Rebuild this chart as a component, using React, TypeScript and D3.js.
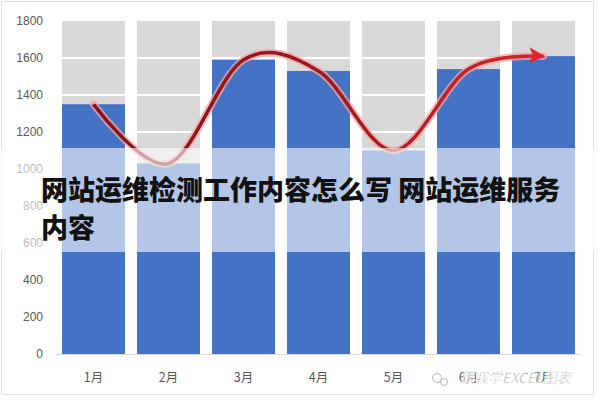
import React, { useEffect, useRef } from "react";
import * as d3 from "d3";

const months = ["1月", "2月", "3月", "4月", "5月", "6月", "7月"];
const sales = [1350, 1030, 1590, 1530, 1100, 1540, 1610];
const trend = [1350, 1030, 1590, 1530, 1100, 1540, 1610];
const yTicks = [0, 200, 400, 600, 800, 1000, 1200, 1400, 1600, 1800];
const yMax = 1800;
const titleLines = ["网站运维检测工作内容怎么写 网站运维服务", "内容"];
const watermark = "跟我学EXCEL图表";

const App: React.FC = () => {
  const svgRef = useRef<SVGSVGElement | null>(null);

  useEffect(() => {
    if (!svgRef.current) return;
    const width = 600;
    const height = 400;

    const svg = d3.select(svgRef.current);
    svg.selectAll("*").remove();
    svg.attr("width", width).attr("height", height);

    const x = d3
      .scaleBand<string>()
      .domain(months)
      .range([56, 581])
      .paddingInner(0.16)
      .paddingOuter(0.08);
    const y = d3.scaleLinear().domain([0, yMax]).range([354, 21]);

    const defs = svg.append("defs");
    const grad = defs
      .append("linearGradient")
      .attr("id", "curveGrad")
      .attr("gradientUnits", "userSpaceOnUse")
      .attr("x1", x("1月")!)
      .attr("x2", x("7月")! + x.bandwidth())
      .attr("y1", 0)
      .attr("y2", 0);
    grad.append("stop").attr("offset", "0%").attr("stop-color", "#7e1519");
    grad.append("stop").attr("offset", "55%").attr("stop-color", "#9c1c20");
    grad.append("stop").attr("offset", "100%").attr("stop-color", "#e3262b");

    defs
      .append("marker")
      .attr("id", "arrow")
      .attr("viewBox", "0 0 10 10")
      .attr("refX", 9)
      .attr("refY", 5)
      .attr("markerWidth", 4.6)
      .attr("markerHeight", 4.6)
      .attr("orient", "auto")
      .attr("markerUnits", "strokeWidth")
      .append("path")
      .attr("d", "M0,0 L10,5 L0,10 L2.5,5 Z")
      .attr("fill", "#e0252a");

    svg.append("rect").attr("width", width).attr("height", height).attr("fill", "#fff");
    svg
      .append("rect")
      .attr("x", 1.5)
      .attr("y", 1.5)
      .attr("width", 592)
      .attr("height", 393)
      .attr("fill", "none")
      .attr("stroke", "#e2e2e2");

    // 회색 배경 막대 (최대값까지)
    svg
      .append("g")
      .selectAll("rect")
      .data(months)
      .enter()
      .append("rect")
      .attr("x", (d) => x(d)!)
      .attr("y", y(yMax))
      .attr("width", x.bandwidth())
      .attr("height", y(0) - y(yMax))
      .attr("fill", "#d9d9d9");

    // 흰색 격자선
    svg
      .append("g")
      .selectAll("line")
      .data(yTicks.filter((t) => t > 0 && t < yMax))
      .enter()
      .append("line")
      .attr("x1", 56)
      .attr("x2", 581)
      .attr("y1", (d) => y(d))
      .attr("y2", (d) => y(d))
      .attr("stroke", "#fff")
      .attr("stroke-width", 2);

    // 파란 막대
    svg
      .append("g")
      .selectAll("rect")
      .data(sales)
      .enter()
      .append("rect")
      .attr("x", (_, i) => x(months[i])!)
      .attr("y", (d) => y(d))
      .attr("width", x.bandwidth())
      .attr("height", (d) => y(0) - y(d))
      .attr("fill", "#4472c4");

    svg
      .append("line")
      .attr("x1", 56)
      .attr("x2", 581)
      .attr("y1", y(0) + 0.5)
      .attr("y2", y(0) + 0.5)
      .attr("stroke", "#d9d9d9");

    // 축 라벨
    svg
      .append("g")
      .selectAll("text")
      .data(yTicks)
      .enter()
      .append("text")
      .attr("x", 43)
      .attr("y", (d) => y(d))
      .attr("dy", "0.35em")
      .attr("text-anchor", "end")
      .attr("font-family", "'Liberation Sans', Arial, sans-serif")
      .attr("font-size", 12)
      .attr("fill", "#595959")
      .text((d) => d);

    svg
      .append("g")
      .selectAll("text")
      .data(months)
      .enter()
      .append("text")
      .attr("x", (d) => x(d)! + x.bandwidth() / 2)
      .attr("y", 378)
      .attr("dy", "0.35em")
      .attr("text-anchor", "middle")
      .attr("font-family", "'Noto Sans CJK SC', sans-serif")
      .attr("font-size", 12.5)
      .attr("fill", "#595959")
      .text((d) => d);

    // 곡선 화살표
    const line = d3
      .line<number>()
      .x((_, i) => x(months[i])! + x.bandwidth() / 2)
      .y((d) => y(d))
      .curve(d3.curveCatmullRom.alpha(0));
    const pathD = line(trend)!;

    svg
      .append("path")
      .attr("d", pathD)
      .attr("fill", "none")
      .attr("stroke", "#f5a3a5")
      .attr("stroke-width", 7.5)
      .attr("stroke-linecap", "round")
      .attr("opacity", 0.75);
    svg
      .append("path")
      .attr("d", pathD)
      .attr("fill", "none")
      .attr("stroke", "url(#curveGrad)")
      .attr("stroke-width", 3.5)
      .attr("stroke-linecap", "butt")
      .attr("marker-end", "url(#arrow)");

    // 반투명 띠 + 제목
    svg
      .append("rect")
      .attr("x", 0)
      .attr("y", 148)
      .attr("width", width)
      .attr("height", 104)
      .attr("fill", "#fff")
      .attr("opacity", 0.6);

    svg
      .append("g")
      .selectAll("text")
      .data(titleLines)
      .enter()
      .append("text")
      .attr("x", 41)
      .attr("y", (_, i) => 200 + i * 38)
      .attr("font-family", "'Noto Sans CJK SC', sans-serif")
      .attr("font-weight", 900)
      .attr("font-size", 27)
      .attr("fill", "#111")
      .text((d) => d);

    // 워터마크
    const wm = svg.append("g").attr("opacity", 0.85);
    wm.append("circle").attr("cx", 437).attr("cy", 378).attr("r", 4.5).attr("fill", "none").attr("stroke", "#aaa");
    wm.append("circle").attr("cx", 444).attr("cy", 382).attr("r", 3.5).attr("fill", "none").attr("stroke", "#aaa");
    wm.append("text")
      .attr("x", 460)
      .attr("y", 378)
      .attr("dy", "0.35em")
      .attr("font-family", "'Noto Sans CJK SC', sans-serif")
      .attr("font-size", 14)
      .attr("font-style", "italic")
      .attr("fill", "#7a7a7a")
      .attr("stroke", "#fff")
      .attr("stroke-width", 0.6)
      .text(watermark);
  }, []);

  return <svg ref={svgRef} style={{ position: "absolute", left: 0, top: 0 }} />;
};

export default App;
